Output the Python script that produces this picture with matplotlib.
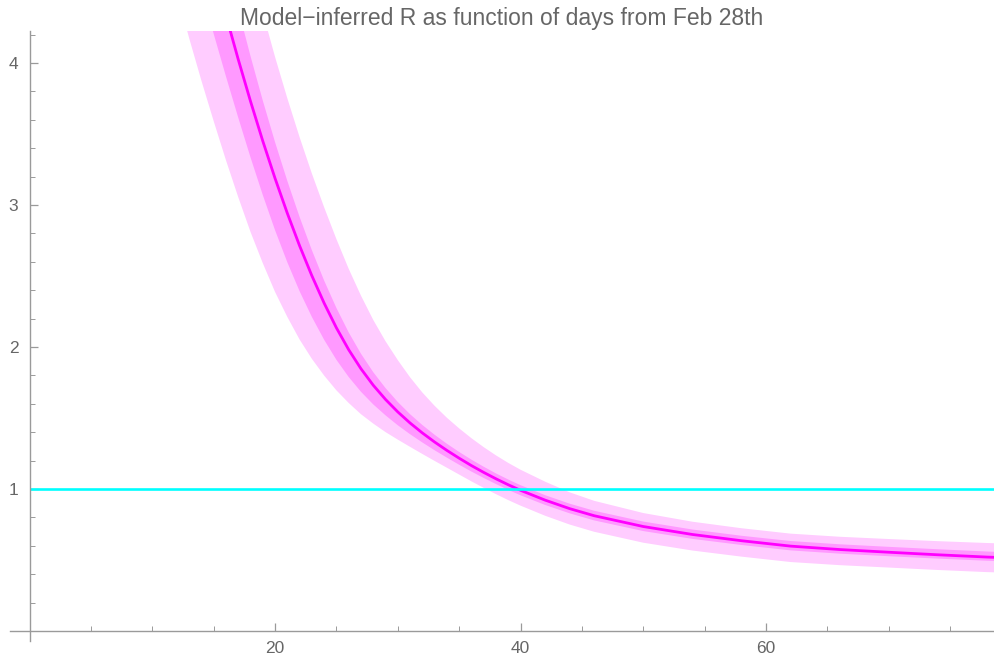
import numpy as np
import matplotlib.pyplot as plt

plt.rcParams['font.family'] = ['Liberation Sans', 'DejaVu Sans']

# days from Feb 28th
days = list(range(12, 41)) + [42, 44, 46, 50, 54, 58, 62, 66, 70, 74, 78, 80]

# model-inferred R (central estimate)
r_mid = [5.776, 5.376, 5.006, 4.661, 4.336, 4.026, 3.731, 3.451, 3.188,
         2.942, 2.713, 2.502, 2.309, 2.135, 1.981, 1.847, 1.731, 1.631,
         1.543, 1.465, 1.395, 1.331, 1.272, 1.217, 1.165, 1.117, 1.072,
         1.030, 0.991,
         0.922, 0.862, 0.812, 0.736, 0.680, 0.636, 0.598, 0.574, 0.555,
         0.537, 0.521, 0.515]

# inner band
r_in_lo = [5.216, 4.856, 4.521, 4.206, 3.906, 3.616, 3.336, 3.071, 2.823,
           2.597, 2.393, 2.212, 2.051, 1.910, 1.789, 1.685, 1.596, 1.519,
           1.449, 1.386, 1.328, 1.273, 1.221, 1.171, 1.123, 1.078, 1.035,
           0.994, 0.956,
           0.888, 0.829, 0.779, 0.704, 0.649, 0.606, 0.568, 0.545, 0.527,
           0.510, 0.495, 0.490]
r_in_hi = [6.376, 5.916, 5.496, 5.101, 4.731, 4.381, 4.049, 3.736, 3.443,
           3.170, 2.916, 2.682, 2.468, 2.275, 2.103, 1.953, 1.823, 1.711,
           1.613, 1.527, 1.451, 1.382, 1.319, 1.261, 1.207, 1.157, 1.110,
           1.067, 1.027,
           0.957, 0.897, 0.847, 0.771, 0.715, 0.671, 0.634, 0.611, 0.593,
           0.576, 0.560, 0.554]

# outer band
r_out_lo = [4.496, 4.176, 3.876, 3.591, 3.316, 3.056, 2.811, 2.591, 2.388,
            2.212, 2.053, 1.917, 1.799, 1.695, 1.606, 1.527, 1.461, 1.401,
            1.348, 1.297, 1.247, 1.198, 1.150, 1.102, 1.054, 1.008, 0.964,
            0.922, 0.883,
            0.812, 0.750, 0.699, 0.622, 0.567, 0.524, 0.486, 0.464, 0.447,
            0.430, 0.415, 0.410]
r_out_hi = [7.476, 6.926, 6.426, 5.961, 5.506, 5.086, 4.701, 4.356, 4.043,
            3.752, 3.478, 3.222, 2.984, 2.760, 2.551, 2.362, 2.191, 2.041,
            1.908, 1.787, 1.680, 1.586, 1.502, 1.427, 1.358, 1.295, 1.237,
            1.184, 1.136,
            1.052, 0.977, 0.917, 0.831, 0.770, 0.724, 0.686, 0.664, 0.648,
            0.633, 0.620, 0.615]

r_threshold = 1.0
x_min, x_max = -1.59, 78.57
y_min, y_max = -0.07, 4.225

grey_axis = '#9a9a9a'
grey_text = '#666666'

fig = plt.figure(figsize=(9.94, 6.57), dpi=100)
ax = fig.add_axes([10/994, 16/657, 984/994, 610/657])

ax.fill_between(days, r_out_lo, r_out_hi, color='#ffccff', lw=0)
ax.fill_between(days, r_in_lo, r_in_hi, color='#ff99ff', lw=0)
ax.plot(days, r_mid, color='#ff00ff', lw=2.0)
ax.hlines(r_threshold, 0, x_max, color='#00ffff', lw=1.9, zorder=3)

ax.set_xlim(x_min, x_max)
ax.set_ylim(y_min, y_max)

for s in ['top', 'right']:
    ax.spines[s].set_visible(False)
for s in ['left', 'bottom']:
    ax.spines[s].set_position(('data', 0))
    ax.spines[s].set_color(grey_axis)
    ax.spines[s].set_linewidth(1.0)
    ax.spines[s].set_zorder(4)
ax.spines['left'].set_bounds(y_min, y_max)
ax.spines['bottom'].set_bounds(x_min, x_max)

ax.set_xticks([20, 40, 60])
ax.set_xticks(np.arange(5, 80, 5), minor=True)
ax.set_yticks([1, 2, 3, 4])
ax.set_yticks(np.arange(0.2, 4.21, 0.2), minor=True)

ax.tick_params(which='both', direction='in', colors=grey_axis,
               labelcolor=grey_text, labelsize=12.5)
ax.tick_params(which='major', length=6, width=0.9)
ax.tick_params(which='minor', length=3.5, width=0.7)
ax.tick_params(axis='x', pad=7)
ax.tick_params(axis='y', pad=8)

ax.set_title('Model\u2212inferred R as function of days from Feb 28th',
             color=grey_text, fontsize=16.5, pad=4)

fig.savefig('out.png', dpi=100)
